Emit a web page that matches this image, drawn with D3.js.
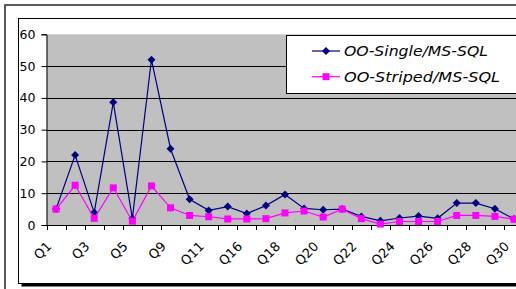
<!DOCTYPE html>
<html>
<head>
<meta charset="utf-8">
<script src="https://cdn.jsdelivr.net/npm/d3@7"></script>
<style>
  html, body { margin: 0; padding: 0; background: #fff; }
  svg { display: block; }
</style>
</head>
<body>
<svg id="chart" width="516" height="289"></svg>
<script>
// data (values are ratios, 0..60)
const categories = ['Q1', 'Q2', 'Q3', 'Q4', 'Q5', 'Q7', 'Q9', 'Q10', 'Q11', 'Q13', 'Q16', 'Q17', 'Q18',
  'Q19', 'Q20', 'Q21', 'Q22', 'Q23', 'Q24', 'Q25', 'Q26', 'Q27', 'Q28', 'Q29', 'Q30'];
const singleValues = [5.0, 22.0, 3.9, 38.6, 2.1, 52.0, 24.0, 8.1, 4.6, 5.8, 3.6, 6.1, 9.6,
  5.2, 4.8, 5.0, 2.7, 1.3, 2.2, 2.8, 2.1, 6.9, 6.9, 5.1, 1.9];
const stripedValues = [5.0, 12.5, 2.1, 11.7, 1.2, 12.3, 5.4, 3.0, 2.6, 1.9, 1.9, 2.0, 3.8,
  4.4, 2.5, 5.0, 2.0, 0.3, 1.1, 1.1, 1.1, 3.0, 3.0, 2.7, 1.8];
const yTicks = [0, 10, 20, 30, 40, 50, 60];
const seriesNames = ['OO-Single/MS-SQL', 'OO-Striped/MS-SQL'];

const svg = d3.select('#chart');

// outer frame + inner chart box with shadow
svg.append('rect').attr('x', 5).attr('y', 5).attr('width', 530).attr('height', 300)
  .attr('fill', '#fff').attr('stroke', '#333').attr('stroke-width', 1.6);
svg.append('rect').attr('x', 21.5).attr('y', 21.5).attr('width', 520).attr('height', 265)
  .attr('fill', '#000');
svg.append('rect').attr('x', 18.5).attr('y', 18.5).attr('width', 520).attr('height', 265)
  .attr('fill', '#fff').attr('stroke', '#000').attr('stroke-width', 1);

const plotLeft = 46.5, plotTop = 34.3, plotBottom = 225;
const step = 19.08;

const x = d3.scaleBand()
  .domain(categories)
  .range([plotLeft, plotLeft + step * categories.length])
  .padding(0);

const y = d3.scaleLinear().domain([0, 60]).range([plotBottom, plotTop]);

// plot area
svg.append('rect')
  .attr('x', plotLeft).attr('y', y(60))
  .attr('width', x.range()[1] - plotLeft).attr('height', y(0) - y(60))
  .attr('fill', '#c0c0c0');

// gridlines
svg.append('g')
  .selectAll('line')
  .data(yTicks.filter(d => d > 0 && d < 60))
  .join('line')
  .attr('x1', plotLeft).attr('x2', x.range()[1])
  .attr('y1', d => Math.round(y(d)) + 0.5).attr('y2', d => Math.round(y(d)) + 0.5)
  .attr('stroke', '#000').attr('stroke-width', 1);

// y axis
const yAxis = svg.append('g')
  .attr('transform', `translate(${plotLeft},0)`)
  .call(d3.axisLeft(y).tickValues(yTicks).tickSize(5).tickPadding(6));
yAxis.select('.domain').attr('stroke', '#000');
yAxis.selectAll('.tick line').attr('stroke', '#000');
yAxis.selectAll('text')
  .attr('font-family', '"DejaVu Sans", Verdana, sans-serif')
  .attr('font-size', '12.5px')
  .attr('fill', '#000');

// x axis line + boundary ticks
svg.append('line')
  .attr('x1', plotLeft).attr('x2', x.range()[1])
  .attr('y1', plotBottom + 0.5).attr('y2', plotBottom + 0.5)
  .attr('stroke', '#000');
svg.append('g')
  .selectAll('line')
  .data(categories)
  .join('line')
  .attr('x1', d => Math.round(x(d)) + 0.5).attr('x2', d => Math.round(x(d)) + 0.5)
  .attr('y1', plotBottom).attr('y2', plotBottom + 5)
  .attr('stroke', '#000');

// x labels, every other category, rotated
svg.append('g')
  .selectAll('text')
  .data(categories.filter((d, i) => i % 2 === 0))
  .join('text')
  .attr('transform', d => `translate(${x(d) + x.bandwidth() / 2 - 7},${plotBottom + 19}) rotate(-45)`)
  .attr('text-anchor', 'end')
  .attr('dy', '0.35em')
  .attr('font-family', '"DejaVu Sans", Verdana, sans-serif')
  .attr('font-size', '13px')
  .attr('fill', '#000')
  .text(d => d);

const cx = d => x(d) + x.bandwidth() / 2;

// series lines
const series = [
  { name: seriesNames[0], values: singleValues, color: '#000080', marker: 'diamond' },
  { name: seriesNames[1], values: stripedValues, color: '#ff00ff', marker: 'square' },
];

const line = d3.line().x(d => cx(d.c)).y(d => y(d.v));

function drawMarker(g, type, color) {
  if (type === 'diamond') {
    g.append('path').attr('d', 'M0,-4L4,0L0,4L-4,0Z').attr('fill', color);
  } else {
    g.append('rect').attr('x', -3.5).attr('y', -3.5).attr('width', 7).attr('height', 7).attr('fill', color);
  }
}

series.forEach(s => {
  const pts = categories.map((c, i) => ({ c, v: s.values[i] }));
  svg.append('path')
    .datum(pts)
    .attr('d', line)
    .attr('fill', 'none')
    .attr('stroke', s.color)
    .attr('stroke-width', 1.2);
  pts.forEach(p => {
    const g = svg.append('g').attr('transform', `translate(${cx(p.c)},${y(p.v)})`);
    drawMarker(g, s.marker, s.color);
  });
});

// legend
const legend = svg.append('g');
legend.append('rect')
  .attr('x', 286.5).attr('y', 35.5).attr('width', 260).attr('height', 58)
  .attr('fill', '#fff').attr('stroke', '#000').attr('stroke-width', 1);
const textWidths = [144, 156];
series.forEach((s, i) => {
  const ly = 51 + i * 25.7;
  legend.append('line')
    .attr('x1', 312).attr('x2', 340).attr('y1', ly).attr('y2', ly)
    .attr('stroke', s.color).attr('stroke-width', 1.2);
  const g = legend.append('g').attr('transform', `translate(326,${ly})`);
  drawMarker(g, s.marker, s.color);
  legend.append('text')
    .attr('x', 344).attr('y', ly).attr('dy', '0.36em')
    .attr('font-family', '"DejaVu Sans", sans-serif')
    .attr('font-style', 'italic')
    .attr('font-size', '14px')
    .attr('textLength', textWidths[i])
    .attr('lengthAdjust', 'spacingAndGlyphs')
    .attr('fill', '#000')
    .text(s.name);
});
</script>
</body>
</html>
